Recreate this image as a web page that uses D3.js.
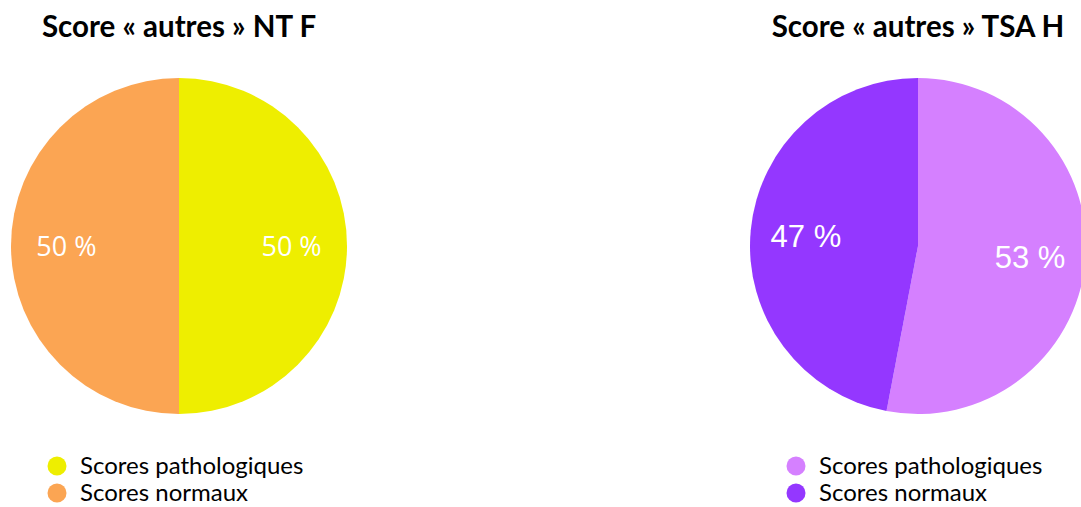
<!DOCTYPE html>
<html>
<head>
<meta charset="utf-8">
<script src="https://cdn.jsdelivr.net/npm/d3@7"></script>
<style>
  html, body { margin: 0; padding: 0; background: #fff; }
  svg { display: block; }
</style>
</head>
<body>
<svg id="chart" width="1081" height="507"></svg>
<script>
// Two pie charts: share of pathological vs normal "autres" scores
const categories = ["Scores pathologiques", "Scores normaux"];
const titles = ["Score « autres » NT F", "Score « autres » TSA H"];
const valuesNTF = [50, 50];
const valuesTSAH = [53, 47];
const colorsNTF = ["#EEEE00", "#FBA553"];
const colorsTSAH = ["#D580FF", "#9437FF"];

const svg = d3.select("#chart");
const radius = 168;

const pie = d3.pie().sort(null).value(d => d);
const arc = d3.arc().innerRadius(0).outerRadius(radius);
const labelArc = d3.arc().innerRadius(radius * 0.67).outerRadius(radius * 0.67);

const charts = [
  { title: titles[0], values: valuesNTF, colors: colorsNTF, cx: 179, labelFont: "'Open Sans', sans-serif", labelSize: 27, legendX: 57 },
  { title: titles[1], values: valuesTSAH, colors: colorsTSAH, cx: 918, labelFont: "'Liberation Sans', Arial, sans-serif", labelSize: 31, legendX: 796 }
];

const cy = 246;

charts.forEach(c => {
  const g = svg.append("g");

  g.append("text")
    .attr("x", c.cx)
    .attr("y", 37)
    .attr("text-anchor", "middle")
    .attr("font-family", "Lato, sans-serif")
    .attr("font-weight", "bold")
    .attr("font-size", 29.5)
    .attr("fill", "#000")
    .text(c.title);

  const pg = g.append("g").attr("transform", `translate(${c.cx},${cy})`);
  const arcs = pie(c.values);

  pg.selectAll("path")
    .data(arcs)
    .join("path")
    .attr("d", arc)
    .attr("fill", (d, i) => c.colors[i]);

  pg.selectAll("text")
    .data(arcs)
    .join("text")
    .attr("transform", d => `translate(${labelArc.centroid(d)})`)
    .attr("text-anchor", "middle")
    .attr("dy", "0.36em")
    .attr("font-family", c.labelFont)
    .attr("font-size", c.labelSize)
    .attr("fill", "#fff")
    .text(d => `${d.data} %`);

  const lg = g.append("g");
  const rows = lg.selectAll("g")
    .data(categories)
    .join("g")
    .attr("transform", (d, i) => `translate(${c.legendX},${466 + i * 27})`);
  rows.append("circle")
    .attr("r", 9.5)
    .attr("fill", (d, i) => c.colors[i]);
  rows.append("text")
    .attr("x", 23)
    .attr("dy", "0.35em")
    .attr("font-family", "Lato, sans-serif")
    .attr("font-size", 24)
    .attr("fill", "#000")
    .text(d => d);
});
</script>
</body>
</html>
